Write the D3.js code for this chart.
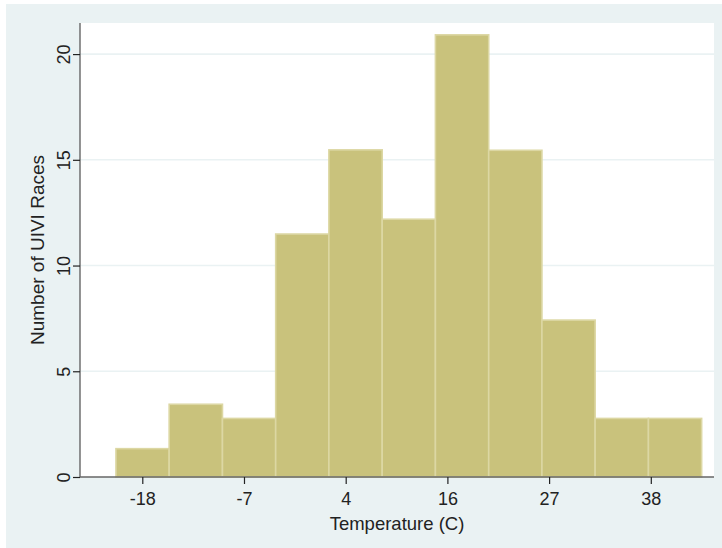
<!DOCTYPE html>
<html>
<head>
<meta charset="utf-8">
<script src="https://cdn.jsdelivr.net/npm/d3@7"></script>
<style>
  body { margin: 0; background: #fff; }
  text { font-family: "Liberation Sans", Arial, sans-serif; fill: #222; }
</style>
</head>
<body>
<svg width="722" height="548"></svg>
<script>

// bin edges (degrees C) and bar heights
var binEdges = [-20.9, -15.04, -9.17, -3.31, 2.55, 8.42, 14.28, 20.15, 26.01, 31.87, 37.74, 43.6];
var counts = [1.34, 3.44, 2.77, 11.49, 15.47, 12.19, 20.91, 15.45, 7.42, 2.77, 2.77];
var xTicks = [-18, -6.8, 4.4, 15.6, 26.8, 38];
var xTickLabels = ["-18", "-7", "4", "16", "27", "38"];
var yTicks = [0, 5, 10, 15, 20];

var bins = counts.map(function(c, i) {
  return {x0: binEdges[i], x1: binEdges[i + 1], n: c};
});

var svg = d3.select("svg");

// outer graph region
svg.append("rect")
    .attr("x", 6).attr("y", 4)
    .attr("width", 716).attr("height", 544)
    .attr("fill", "#eaf2f3");

var plot = {left: 80, right: 714, top: 23, bottom: 477};

svg.append("rect")
    .attr("x", plot.left).attr("y", plot.top)
    .attr("width", plot.right - plot.left)
    .attr("height", plot.bottom - plot.top)
    .attr("fill", "#fff");

var x = d3.scaleLinear()
    .domain([-24.86, 44.96])
    .range([plot.left, plot.right]);

var y = d3.scaleLinear()
    .domain([0, 21.47])
    .range([plot.bottom, plot.top]);

// grid
svg.append("g")
  .selectAll("line")
  .data(yTicks.filter(function(d) { return d > 0; }))
  .enter().append("line")
    .attr("x1", plot.left).attr("x2", plot.right)
    .attr("y1", function(d) { return y(d); })
    .attr("y2", function(d) { return y(d); })
    .attr("stroke", "#eaf2f3")
    .attr("stroke-width", 1.6);

// bars
svg.append("g")
  .selectAll("rect")
  .data(bins)
  .enter().append("rect")
    .attr("x", function(d) { return x(d.x0); })
    .attr("y", function(d) { return y(d.n); })
    .attr("width", function(d) { return x(d.x1) - x(d.x0); })
    .attr("height", function(d) { return y(0) - y(d.n); })
    .attr("fill", "#c9c27c")
    .attr("stroke", "#dcd7a3")
    .attr("stroke-width", 1.6);

// axes
var xAxis = svg.append("g")
    .attr("transform", "translate(0," + plot.bottom + ")")
    .call(d3.axisBottom(x)
      .tickValues(xTicks)
      .tickSize(7)
      .tickPadding(8)
      .tickFormat(function(d, i) { return xTickLabels[i]; }));

var yAxis = svg.append("g")
    .attr("transform", "translate(" + plot.left + ",0)")
    .call(d3.axisLeft(y)
      .tickValues(yTicks)
      .tickSize(7));

[xAxis, yAxis].forEach(function(a) {
  a.select(".domain").attr("stroke", "#666").attr("stroke-width", 1.4);
  a.selectAll(".tick line").attr("stroke", "#222").attr("stroke-width", 1.2);
  a.selectAll(".tick text")
      .style("font-size", "18px")
      .style("font-family", "'Liberation Sans', Arial, sans-serif")
      .attr("fill", "#222");
});
// axis lines span the plot region
xAxis.select(".domain").attr("d", "M" + plot.left + ",0H" + plot.right);
yAxis.select(".domain").attr("d", "M0," + plot.top + "V" + plot.bottom);

// y tick labels are rotated like the original
yAxis.selectAll(".tick text")
    .attr("x", null).attr("dy", null)
    .attr("text-anchor", "middle")
    .attr("transform", "translate(-10,0) rotate(-90)");

svg.append("text")
    .attr("x", (plot.left + plot.right) / 2)
    .attr("y", 530)
    .attr("text-anchor", "middle")
    .style("font-size", "18.5px")
    .text("Temperature (C)");

svg.append("text")
    .attr("transform", "translate(44," + ((plot.top + plot.bottom) / 2) + ") rotate(-90)")
    .attr("text-anchor", "middle")
    .style("font-size", "19px")
    .text("Number of UIVI Races");

</script>
</body>
</html>
